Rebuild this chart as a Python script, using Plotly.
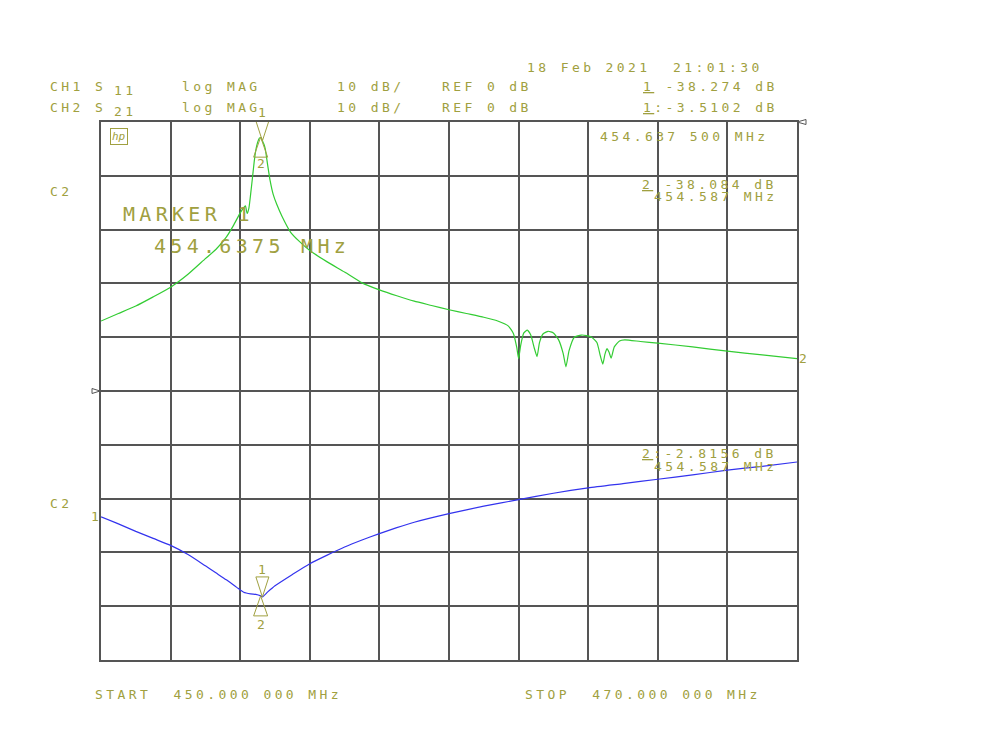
import plotly.graph_objects as go

# ---------------- data ----------------
start_mhz = 450.0
stop_mhz = 470.0

s21_freq = [450.0, 450.5, 451.0, 451.5, 452.0, 452.5, 453.0, 453.3, 453.6, 453.8,
            454.0, 454.1, 454.15, 454.2, 454.25, 454.3, 454.35, 454.4, 454.45, 454.5,
            454.55, 454.6, 454.64, 454.68, 454.72, 454.78, 454.86, 454.95, 455.05, 455.2,
            455.45, 455.7, 456.0, 456.5, 457.0, 457.5, 458.0, 458.5, 459.0, 459.5,
            460.0, 460.5, 461.0, 461.4, 461.7, 461.85, 461.95, 462.0, 462.06, 462.15,
            462.25, 462.35, 462.45, 462.53, 462.6, 462.7, 462.85, 463.0, 463.15, 463.28,
            463.36, 463.45, 463.6, 463.8, 463.95, 464.1, 464.25, 464.35, 464.42, 464.48,
            464.54, 464.6, 464.66, 464.75, 464.9, 465.05, 465.5, 466.0, 467.0, 468.0,
            469.0, 470.0]
s21_db = [-37.0, -35.6, -34.2, -32.5, -30.7, -28.3, -25.4, -23.7, -21.4, -19.3,
          -16.9, -15.9, -15.6, -17.0, -16.0, -13.4, -10.5, -7.5, -5.2, -3.8,
          -3.0, -2.9, -3.5, -4.1, -5.0, -7.6, -10.9, -13.5, -15.3, -17.5,
          -20.5, -22.2, -23.9, -26.0, -27.9, -29.9, -31.2, -32.3, -33.3, -34.1,
          -34.9, -35.6, -36.3, -37.0, -37.9, -39.3, -42.0, -44.0, -41.5, -39.2,
          -38.7, -39.6, -42.0, -43.6, -41.0, -39.4, -38.9, -39.2, -40.5, -43.0,
          -45.5, -42.5, -40.0, -39.6, -39.7, -40.0, -41.0, -43.5, -45.0, -43.2,
          -42.1, -42.8, -43.9, -41.8, -40.7, -40.5, -40.8, -41.1, -41.8, -42.6,
          -43.3, -44.0]

s11_freq = [450.0, 450.5, 451.0, 451.5, 452.0, 452.5, 453.0, 453.3, 453.6, 453.9,
            454.1, 454.3, 454.45, 454.587, 454.6375, 454.8, 455.0, 455.5, 456.0, 456.5,
            457.0, 457.5, 458.0, 458.5, 459.0, 460.0, 461.0, 462.0, 463.0, 464.0,
            465.0, 466.0, 467.0, 468.0, 469.0, 470.0]
s11_db = [-23.4, -24.7, -26.1, -27.4, -28.7, -30.4, -32.5, -33.8, -35.1, -36.5,
          -37.4, -37.7, -37.8, -38.08, -38.27, -37.3, -36.2, -34.1, -32.1, -30.5,
          -29.0, -27.7, -26.5, -25.4, -24.4, -22.8, -21.4, -20.2, -19.0, -18.0,
          -17.2, -16.4, -15.6, -14.7, -14.0, -13.2]

marker_freq = [454.6375, 454.587]
marker_s21 = [-3.5102, -2.8156]
marker_s11 = [-38.274, -38.084]

# ---------------- style ----------------
OLIVE = "#a0a040"
GRID = "#555555"
FONT = "DejaVu Sans Mono"
L, R, T, B = 101, 797, 122, 660
PW, PH = R - L, B - T

fig = go.Figure()
fig.add_trace(go.Scatter(x=s21_freq, y=s21_db, mode="lines",
                         line=dict(color="#33cc33", width=1.2, shape="spline", smoothing=0.5),
                         yaxis="y", hoverinfo="skip", showlegend=False))
fig.add_trace(go.Scatter(x=s11_freq, y=s11_db, mode="lines",
                         line=dict(color="#3333ee", width=1.2, shape="spline", smoothing=0.6),
                         yaxis="y2", hoverinfo="skip", showlegend=False))

ann = []


def txt(px, py, s, size=13, ls=3.4, anchor="left", color=OLIVE, **kw):
    ann.append(dict(xref="paper", yref="paper", x=(px - L) / PW, y=(B - py) / PH,
                    text=f'<span style="letter-spacing:{ls}px">{s}</span>',
                    showarrow=False, xanchor=anchor, yanchor="middle",
                    font=dict(family=FONT, size=size, color=color), **kw))


# header
txt(525, 67, "18 Feb 2021  21:01:30")
txt(48, 87, "CH1 S")
txt(112, 91, "11")
txt(180, 87, "log MAG")
txt(335, 87, "10 dB/")
txt(440, 87, "REF 0 dB")
txt(641, 87, '<span style="text-decoration:underline">1</span> -38.274 dB')
txt(48, 107, "CH2 S")
txt(112, 111, "21")
txt(180, 107, "log MAG")
txt(335, 107, "10 dB/")
txt(440, 107, "REF 0 dB")
txt(641, 107, '<span style="text-decoration:underline">1</span>:-3.5102 dB')

# in-grid texts
txt(598, 136, "454.637 500 MHz")
txt(640, 184, '<span style="text-decoration:underline">2</span> -38.084 dB')
txt(652, 196, "454.587 MHz")
txt(640, 453, '<span style="text-decoration:underline">2</span>:-2.8156 dB')
txt(652, 466, "454.587 MHz")
txt(121, 214, "MARKER 1", size=20, ls=4.3)
txt(152, 246, "454.6375 MHz", size=20, ls=4.3)
txt(48, 191, "C2")
txt(48, 503, "C2")
txt(93, 694, "START  450.000 000 MHz")
txt(523, 694, "STOP  470.000 000 MHz")
ann.append(dict(xref="paper", yref="paper", x=(118.8 - L) / PW, y=(B - 136.3) / PH,
                text="<i>hp</i>", showarrow=False, xanchor="center", yanchor="middle",
                font=dict(family=FONT, size=11, color=OLIVE),
                bordercolor=OLIVE, borderwidth=1, borderpad=1))

# trace end labels
ann.append(dict(xref="x", yref="y", x=s21_freq[-1], y=s21_db[-1], text="2",
                showarrow=False, xanchor="left", yanchor="middle",
                font=dict(family=FONT, size=13, color=OLIVE)))
ann.append(dict(xref="x", yref="y2", x=s11_freq[0], y=s11_db[0], text="1",
                showarrow=False, xanchor="right", yanchor="middle",
                font=dict(family=FONT, size=13, color=OLIVE)))

# marker labels
for f, v, yr, shifts in [(marker_freq[0], marker_s21[0], "y", 28),
                         (marker_freq[1], marker_s21[1], "y", -26),
                         (marker_freq[0], marker_s11[0], "y2", 27),
                         (marker_freq[1], marker_s11[1], "y2", -29)]:
    lab = "1" if f == marker_freq[0] else "2"
    ann.append(dict(xref="x", yref=yr, x=f, y=v, text=lab, showarrow=False,
                    xanchor="center", yanchor="middle", yshift=shifts,
                    font=dict(family=FONT, size=13, color=OLIVE)))

shapes = []
# marker triangles (pixel sized, anchored at trace values)
for f, v, yr, up in [(marker_freq[0], marker_s21[0], "y", True),
                     (marker_freq[1], marker_s21[1], "y", False),
                     (marker_freq[0], marker_s11[0], "y2", True),
                     (marker_freq[1], marker_s11[1], "y2", False)]:
    path = "M-6.5,20 L6.5,20 L0,0 Z" if up else "M-7,-20 L7,-20 L0,0 Z"
    shapes.append(dict(type="path", xref="x", yref=yr, xsizemode="pixel",
                       ysizemode="pixel", xanchor=f, yanchor=v, path=path,
                       line=dict(color=OLIVE, width=1)))
# reference position indicators
shapes.append(dict(type="path", xref="paper", yref="paper", xsizemode="pixel",
                   ysizemode="pixel", xanchor=0, yanchor=0.5,
                   path="M-9,2.5 L-9,-2.5 L-1,0 Z", line=dict(color=GRID, width=1)))
shapes.append(dict(type="path", xref="paper", yref="paper", xsizemode="pixel",
                   ysizemode="pixel", xanchor=1, yanchor=1,
                   path="M0,0 L9,2.5 L9,-2.5 Z", line=dict(color=GRID, width=1)))

axis_common = dict(showgrid=True, gridcolor=GRID, gridwidth=1.5, zeroline=False,
                   showticklabels=False, ticks="", showline=True, mirror=True,
                   linecolor=GRID, linewidth=1.5)
fig.update_layout(
    width=1000, height=750, autosize=False,
    margin=dict(l=L, r=1000 - R, t=T, b=750 - B, pad=0),
    paper_bgcolor="white", plot_bgcolor="white",
    xaxis=dict(range=[start_mhz, stop_mhz], dtick=2, **axis_common),
    yaxis=dict(range=[-100, 0], dtick=10, **axis_common),
    yaxis2=dict(range=[-50, 50], overlaying="y", showgrid=False, zeroline=False,
                showticklabels=False, ticks="", showline=False),
    annotations=ann, shapes=shapes, showlegend=False,
)

fig.write_html("out.html")
